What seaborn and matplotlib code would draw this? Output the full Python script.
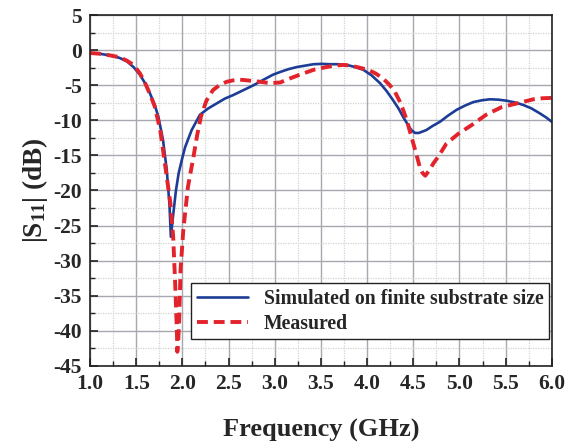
import matplotlib
matplotlib.use("Agg")
import matplotlib.pyplot as plt
from matplotlib.ticker import MultipleLocator
import numpy as np
import pandas as pd
import seaborn as sns

# Return loss of the antenna: simulation vs. measurement
freq_sim = [1.0, 1.1, 1.22, 1.32, 1.40, 1.47, 1.54, 1.60, 1.65, 1.70, 1.74, 1.79,
            1.83, 1.86, 1.875, 1.90, 1.93, 1.96, 2.00, 2.03, 2.10, 2.19, 2.28, 2.37,
            2.46, 2.55, 2.66, 2.77, 2.88, 2.98, 3.06, 3.15, 3.24, 3.33, 3.42, 3.51,
            3.60, 3.69, 3.78, 3.87, 3.96, 4.05, 4.14, 4.21, 4.28, 4.34, 4.39, 4.44,
            4.48, 4.52, 4.56, 4.60, 4.64, 4.71, 4.79, 4.88, 4.97, 5.06, 5.15, 5.24,
            5.33, 5.42, 5.51, 5.60, 5.69, 5.78, 5.87, 5.94, 6.0]
s11_sim = [-0.4, -0.5, -0.75, -1.1, -1.6, -2.4, -3.5, -4.8, -6.2, -7.8, -9.5, -12.8,
           -17.0, -22.0, -26.6, -23.5, -20.0, -17.5, -15.3, -13.8, -11.4, -9.2, -8.3, -7.6,
           -6.9, -6.4, -5.7, -5.0, -4.2, -3.5, -3.1, -2.7, -2.4, -2.2, -2.0, -1.95,
           -2.0, -2.0, -2.1, -2.4, -2.8, -3.6, -4.7, -5.8, -7.1, -8.3, -9.5, -10.6,
           -11.4, -11.8, -11.8, -11.6, -11.4, -10.8, -10.2, -9.3, -8.5, -7.9, -7.4, -7.15,
           -7.0, -7.05, -7.2, -7.45, -7.8, -8.3, -9.0, -9.6, -10.2]

freq_meas = [1.0, 1.1, 1.2, 1.32, 1.40, 1.47, 1.54, 1.60, 1.65, 1.70, 1.76, 1.81,
             1.87, 1.90, 1.92, 1.94, 1.945, 1.955, 1.966, 1.98, 2.01, 2.06, 2.12, 2.16,
             2.20, 2.26, 2.33, 2.40, 2.48, 2.55, 2.62, 2.70, 2.84, 2.95, 3.06, 3.15,
             3.27, 3.42, 3.56, 3.65, 3.74, 3.82, 3.89, 3.95, 4.01, 4.09, 4.17, 4.24,
             4.30, 4.35, 4.39, 4.43, 4.46, 4.52, 4.57, 4.60, 4.63, 4.67, 4.72, 4.77,
             4.86, 4.99, 5.13, 5.29, 5.46, 5.62, 5.80, 5.90, 6.0]
s11_meas = [-0.4, -0.5, -0.7, -1.0, -1.5, -2.1, -3.3, -4.8, -6.3, -8.0, -11.4, -16.1,
            -21.8, -26.6, -32.7, -39.9, -43.0, -41.5, -38.0, -31.3, -25.6, -19.5, -15.2, -12.1,
            -9.5, -7.2, -5.7, -5.0, -4.5, -4.3, -4.2, -4.3, -4.5, -4.7, -4.6, -4.1,
            -3.5, -2.8, -2.4, -2.2, -2.1, -2.2, -2.4, -2.6, -2.8, -3.3, -4.0, -4.9,
            -5.9, -7.2, -8.5, -10.0, -11.4, -14.2, -16.6, -17.5, -17.9, -17.2, -16.1, -15.2,
            -13.3, -11.9, -10.7, -9.2, -8.1, -7.6, -7.0, -6.85, -6.8]

label_sim = "Simulated on finite substrate size"
label_meas = "Measured"

sns.set_theme(style="white")
plt.rcParams["font.family"] = ["Liberation Serif", "DejaVu Serif"]
plt.rcParams["font.weight"] = "bold"
plt.rcParams["mathtext.fontset"] = "custom"
plt.rcParams["mathtext.rm"] = "Liberation Serif:bold"
plt.rcParams["mathtext.it"] = "Liberation Serif:bold"
plt.rcParams["mathtext.bf"] = "Liberation Serif:bold"

df_sim = pd.DataFrame({"f": freq_sim, "s11": s11_sim})
df_meas = pd.DataFrame({"f": freq_meas, "s11": s11_meas})

fig = plt.figure(figsize=(5.7, 4.45), dpi=100)
ax = fig.add_axes([0.158, 0.178, 0.81, 0.788])

# grid: solid major lines, dotted minor lines
ax.xaxis.set_major_locator(MultipleLocator(0.5))
ax.xaxis.set_minor_locator(MultipleLocator(0.25))
ax.yaxis.set_major_locator(MultipleLocator(5))
ax.yaxis.set_minor_locator(MultipleLocator(2.5))
ax.grid(which="major", color="#a8a8b0", linewidth=1.0, linestyle="-")
ax.grid(which="minor", color="#ccd6cc", linewidth=0.9, linestyle=(0, (1, 1)))
ax.set_axisbelow(True)

sns.lineplot(data=df_sim, x="f", y="s11", ax=ax, color="#1c3c96", linewidth=1.9,
             label=label_sim, sort=False)
sns.lineplot(data=df_meas, x="f", y="s11", ax=ax, color="#e3232b", linewidth=2.8,
             label=label_meas, sort=False)
ax.lines[-1].set_dashes((2.8, 1.5))

ax.set_xlim(1.0, 6.0)
ax.set_ylim(-45, 5)

for s in ax.spines.values():
    s.set_visible(True)
    s.set_color("#222222")
    s.set_linewidth(1.2)

ax.tick_params(which="major", direction="in", length=6, width=1.2, color="#222222",
               labelsize=15.5, pad=6)
ax.tick_params(which="minor", direction="in", length=3.5, width=1.0, color="#222222")
ax.tick_params(axis="x", which="both", top=False, bottom=True)
ax.tick_params(axis="y", which="both", left=True, right=False)

ax.set_xticks(np.arange(1.0, 6.01, 0.5))
ax.set_xticklabels([f"{v:.1f}" for v in np.arange(1.0, 6.01, 0.5)])
ax.set_yticks(np.arange(-45, 6, 5))
ax.set_yticklabels([str(v) for v in range(-45, 6, 5)])
for lbl in ax.get_xticklabels() + ax.get_yticklabels():
    lbl.set_fontweight("bold")

ax.set_xlabel("Frequency (GHz)", fontsize=19, fontweight="bold", labelpad=18)
ax.set_ylabel(r"|S$_{11}$| (dB)", fontsize=19.5, fontweight="bold", labelpad=2)

leg = ax.legend(loc="lower right", bbox_to_anchor=(0.995, 0.075), frameon=True,
                fancybox=False, edgecolor="#222222", framealpha=1.0,
                prop={"family": "Liberation Serif", "weight": "bold", "size": 14.2},
                handlelength=2.6, borderpad=0.3, labelspacing=0.25, handletextpad=0.8,
                borderaxespad=0.0)
leg.get_frame().set_linewidth(1.0)

fig.savefig("out.png", dpi=100)
